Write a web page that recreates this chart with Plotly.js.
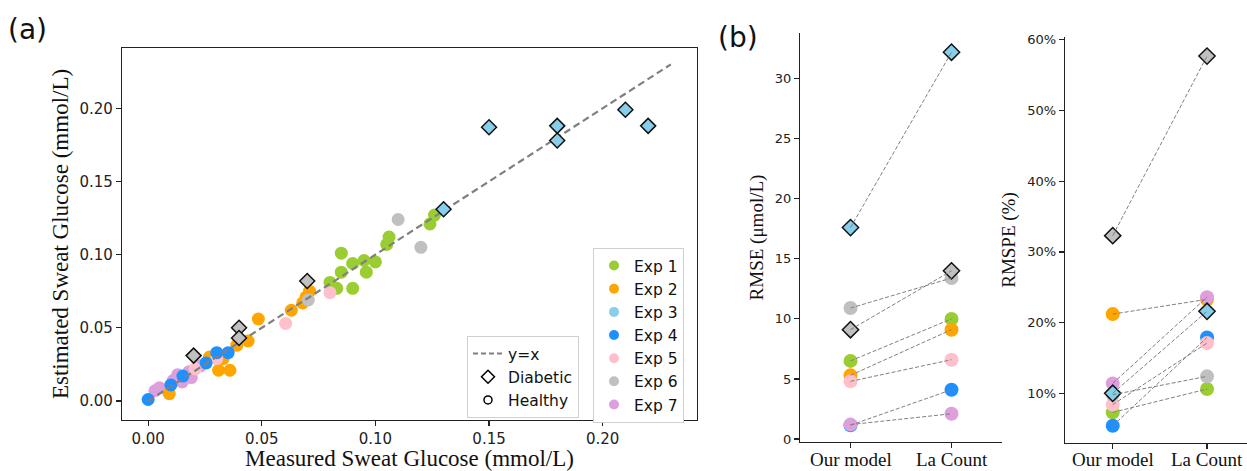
<!DOCTYPE html>
<html>
<head>
<meta charset="utf-8">
<script src="https://cdn.plot.ly/plotly-3.0.1.min.js"></script>
<style>html,body{margin:0;padding:0;background:#fff;}#chart{width:1247px;height:471px;}</style>
</head>
<body>
<div id="chart"></div>
<script>
// ---------- Panel (a) data ----------
const exp1X = [0.085, 0.105, 0.106, 0.124, 0.126, 0.090, 0.095, 0.100, 0.096, 0.085, 0.080, 0.083, 0.090];
const exp1Y = [0.101, 0.107, 0.112, 0.121, 0.127, 0.094, 0.096, 0.095, 0.088, 0.088, 0.081, 0.077, 0.077];
const exp2X = [0.071, 0.0695, 0.068, 0.063, 0.0485, 0.044, 0.039, 0.031, 0.036, 0.033, 0.027, 0.0093];
const exp2Y = [0.075, 0.071, 0.067, 0.062, 0.056, 0.041, 0.038, 0.021, 0.021, 0.029, 0.030, 0.005];
const exp3DiabX = [0.15, 0.18, 0.18, 0.21, 0.22, 0.13];
const exp3DiabY = [0.187, 0.188, 0.178, 0.199, 0.188, 0.131];
const exp4X = [0.0, 0.010, 0.0153, 0.0255, 0.0302, 0.0352];
const exp4Y = [0.001, 0.011, 0.017, 0.026, 0.033, 0.033];
const exp5X = [0.0207, 0.0302, 0.080, 0.0605];
const exp5Y = [0.022, 0.029, 0.074, 0.053];
const exp6X = [0.110, 0.120, 0.0705];
const exp6Y = [0.124, 0.105, 0.069];
const exp6DiabX = [0.07, 0.04, 0.04, 0.02];
const exp6DiabY = [0.082, 0.050, 0.043, 0.031];
const exp7X = [0.003, 0.005, 0.008, 0.011, 0.013, 0.015, 0.018, 0.019, 0.023];
const exp7Y = [0.007, 0.009, 0.008, 0.014, 0.018, 0.013, 0.020, 0.016, 0.024];
const refLineX = [0, 0.23];
const refLineY = [0, 0.23];
const tickValsA = [0, 0.05, 0.10, 0.15, 0.20];

const expNames = ['Exp 1', 'Exp 2', 'Exp 3', 'Exp 4', 'Exp 5', 'Exp 6', 'Exp 7'];
const expColors = ['#9acd32', '#ffa500', '#87ceeb', '#1e90ff', '#ffc0cb', '#c0c0c0', '#dda0dd'];

// ---------- Panel (b) data ----------
const methods = ['Our model', 'La Count'];
// RMSE (µmol/L): [Our model, La Count]
const rmseExp1 = [6.5, 10.0];
const rmseExp2 = [5.3, 9.1];
const rmseExp4 = [1.15, 4.1];
const rmseExp5 = [4.8, 6.6];
const rmseExp6 = [10.9, 13.4];
const rmseExp7 = [1.2, 2.1];
const rmseExp6Diab = [9.1, 14.0];
const rmseExp3Diab = [17.6, 32.2];
const rmseTicks = [0, 5, 10, 15, 20, 25, 30];
// RMSPE (%): [Our model, La Count]
const rmspeExp1 = [7.3, 10.6];
const rmspeExp2 = [21.2, 23.3];
const rmspeExp4 = [5.4, 17.9];
const rmspeExp5 = [8.4, 17.1];
const rmspeExp6 = [9.8, 12.4];
const rmspeExp7 = [11.4, 23.6];
const rmspeExp3Diab = [10.0, 21.6];
const rmspeExp6Diab = [32.3, 57.7];
const rmspeTicks = [10, 20, 30, 40, 50, 60];
const rmspeTickText = ['10%', '20%', '30%', '40%', '50%', '60%'];

const C = {};
expNames.forEach((n, i) => C[n] = expColors[i]);

const traces = [];
function circ(x, y, color, xa, ya, size) {
  traces.push({x: x, y: y, xaxis: xa, yaxis: ya, type: 'scatter', mode: 'markers', showlegend: false, hoverinfo: 'skip',
    marker: {symbol: 'circle', size: size, color: color, line: {width: 0}}});
}
function diam(x, y, color, xa, ya, size) {
  traces.push({x: x, y: y, xaxis: xa, yaxis: ya, type: 'scatter', mode: 'markers', showlegend: false, hoverinfo: 'skip',
    marker: {symbol: 'diamond', size: size, color: color, line: {width: 1.5, color: '#111'}}});
}
function link(y, xa, ya) {
  traces.push({x: methods, y: y, xaxis: xa, yaxis: ya, type: 'scatter', mode: 'lines', showlegend: false, hoverinfo: 'skip',
    line: {color: '#7f7f7f', width: 1, dash: '4px,2px'}});
}

// Panel (a)
circ(exp7X, exp7Y, C['Exp 7'], 'x', 'y', 13);
circ(exp1X, exp1Y, C['Exp 1'], 'x', 'y', 13);
circ(exp2X, exp2Y, C['Exp 2'], 'x', 'y', 13);
circ(exp6X, exp6Y, C['Exp 6'], 'x', 'y', 13);
circ(exp5X, exp5Y, C['Exp 5'], 'x', 'y', 13);
circ(exp4X, exp4Y, C['Exp 4'], 'x', 'y', 13);
traces.push({x: refLineX, y: refLineY, xaxis: 'x', yaxis: 'y', type: 'scatter', mode: 'lines', showlegend: false, hoverinfo: 'skip',
  line: {color: '#808080', width: 2.2, dash: '7px,4px'}});
diam(exp6DiabX, exp6DiabY, C['Exp 6'], 'x', 'y', 11.5);
diam(exp3DiabX, exp3DiabY, C['Exp 3'], 'x', 'y', 11.5);

// Panel (b) RMSE
circ(methods, rmseExp1, C['Exp 1'], 'x2', 'y2', 14);
circ(methods, rmseExp2, C['Exp 2'], 'x2', 'y2', 14);
circ(methods, rmseExp4, C['Exp 4'], 'x2', 'y2', 14);
circ(methods, rmseExp5, C['Exp 5'], 'x2', 'y2', 14);
circ(methods, rmseExp6, C['Exp 6'], 'x2', 'y2', 14);
circ(methods, rmseExp7, C['Exp 7'], 'x2', 'y2', 14);
diam(methods, rmseExp6Diab, C['Exp 6'], 'x2', 'y2', 12.5);
diam(methods, rmseExp3Diab, C['Exp 3'], 'x2', 'y2', 12.5);
[rmseExp1, rmseExp2, rmseExp4, rmseExp5, rmseExp6, rmseExp7, rmseExp6Diab, rmseExp3Diab].forEach(s => link(s, 'x2', 'y2'));

// Panel (b) RMSPE
circ(methods, rmspeExp1, C['Exp 1'], 'x3', 'y3', 14);
circ(methods, rmspeExp2, C['Exp 2'], 'x3', 'y3', 14);
circ(methods, rmspeExp4, C['Exp 4'], 'x3', 'y3', 14);
circ(methods, rmspeExp5, C['Exp 5'], 'x3', 'y3', 14);
circ(methods, rmspeExp6, C['Exp 6'], 'x3', 'y3', 14);
circ(methods, rmspeExp7, C['Exp 7'], 'x3', 'y3', 14);
diam(methods, rmspeExp3Diab, C['Exp 3'], 'x3', 'y3', 12.5);
diam(methods, rmspeExp6Diab, C['Exp 6'], 'x3', 'y3', 12.5);
[rmspeExp1, rmspeExp2, rmspeExp4, rmspeExp5, rmspeExp6, rmspeExp7, rmspeExp3Diab, rmspeExp6Diab].forEach(s => link(s, 'x3', 'y3'));

// Legend entries
expNames.forEach((n, i) => {
  traces.push({x: [null], y: [null], xaxis: 'x', yaxis: 'y', type: 'scatter', mode: 'markers', name: n, legend: 'legend',
    marker: {symbol: 'circle', size: 10, color: expColors[i]}});
});
traces.push({x: [null], y: [null], xaxis: 'x', yaxis: 'y', type: 'scatter', mode: 'lines', name: 'y=x', legend: 'legend2',
  line: {color: '#808080', width: 2, dash: '5px,3px'}});
traces.push({x: [null], y: [null], xaxis: 'x', yaxis: 'y', type: 'scatter', mode: 'markers', name: 'Diabetic', legend: 'legend2',
  marker: {symbol: 'diamond', size: 10, color: '#fff', line: {width: 1.5, color: '#000'}}});
traces.push({x: [null], y: [null], xaxis: 'x', yaxis: 'y', type: 'scatter', mode: 'markers', name: 'Healthy', legend: 'legend2',
  marker: {symbol: 'circle', size: 8, color: '#fff', line: {width: 1.5, color: '#000'}}});

const W = 1247, H = 471;
const px = v => v / W, py = v => (H - v) / H;
const tickFontA = {family: 'DejaVu Sans', size: 15, color: '#222'};
const tickFontB = {family: 'DejaVu Sans', size: 13, color: '#222'};
const serifA = {family: 'Liberation Serif', size: 23, color: '#111'};
const serifB = {family: 'Liberation Serif', size: 19, color: '#111'};
const axBase = {showgrid: false, zeroline: false, showline: true, linecolor: '#222', linewidth: 1.2,
  ticks: 'outside', ticklen: 5, tickwidth: 1.2, tickcolor: '#222', automargin: false, fixedrange: true};

const catAnn = [];
['x2', 'x3'].forEach(xa => methods.forEach(m => catAnn.push({text: m, xref: xa, yref: 'paper', x: m, y: py(459),
  xanchor: 'center', yanchor: 'middle', showarrow: false, font: serifB})));

const layout = {
  width: W, height: H, margin: {l: 0, r: 0, t: 0, b: 0}, paper_bgcolor: '#fff', plot_bgcolor: '#fff',
  font: {family: 'DejaVu Sans', color: '#222'},
  xaxis: Object.assign({}, axBase, {domain: [px(122), px(697)], anchor: 'y', mirror: true, range: [-0.0115, 0.2415],
    tickvals: tickValsA, tickformat: '.2f', tickfont: tickFontA,
    title: {text: 'Measured Sweat Glucose (mmol/L)', font: serifA, standoff: 6}}),
  yaxis: Object.assign({}, axBase, {domain: [py(420), py(48)], anchor: 'x', mirror: true, range: [-0.013, 0.2412],
    tickvals: tickValsA, tickformat: '.2f', tickfont: tickFontA,
    title: {text: 'Estimated Sweat Glucose (mmol/L)', font: serifA, standoff: 4}}),
  xaxis2: Object.assign({}, axBase, {domain: [px(800), px(1002)], anchor: 'y2', type: 'category', categoryarray: methods,
    range: [-0.5, 1.5], showticklabels: false}),
  yaxis2: Object.assign({}, axBase, {domain: [py(442), py(33)], anchor: 'x2', range: [-0.25, 33.8],
    tickvals: rmseTicks, tickfont: tickFontB,
    title: {text: 'RMSE (μmol/L)', font: serifB, standoff: 6}}),
  xaxis3: Object.assign({}, axBase, {domain: [px(1065), 1], anchor: 'y3', type: 'category', categoryarray: methods,
    range: [-0.506, 1.424], showticklabels: false}),
  yaxis3: Object.assign({}, axBase, {domain: [py(443), py(37)], anchor: 'x3', range: [2.97, 60.4],
    tickvals: rmspeTicks, ticktext: rmspeTickText, tickfont: tickFontB,
    title: {text: 'RMSPE (%)', font: serifB, standoff: 6}}),
  legend: {x: px(593), y: py(248), xanchor: 'left', yanchor: 'top', bgcolor: '#fff', bordercolor: '#d0d0d0', borderwidth: 1,
    font: {family: 'DejaVu Sans', size: 15.5, color: '#111'}, itemclick: false, itemdoubleclick: false},
  legend2: {x: px(467), y: py(336), xanchor: 'left', yanchor: 'top', bgcolor: '#fff', bordercolor: '#d0d0d0', borderwidth: 1,
    font: {family: 'DejaVu Sans', size: 15.5, color: '#111'}, itemclick: false, itemdoubleclick: false},
  annotations: [
    {text: '(a)', xref: 'paper', yref: 'paper', x: px(6), y: py(30), xanchor: 'left', yanchor: 'middle', showarrow: false,
      font: {family: 'DejaVu Sans', size: 28, color: '#111'}},
    {text: '(b)', xref: 'paper', yref: 'paper', x: px(716), y: py(38), xanchor: 'left', yanchor: 'middle', showarrow: false,
      font: {family: 'DejaVu Sans', size: 28, color: '#111'}}
  ].concat(catAnn),
  showlegend: true
};

Plotly.newPlot('chart', traces, layout, {staticPlot: true, displayModeBar: false});
</script>
</body>
</html>
